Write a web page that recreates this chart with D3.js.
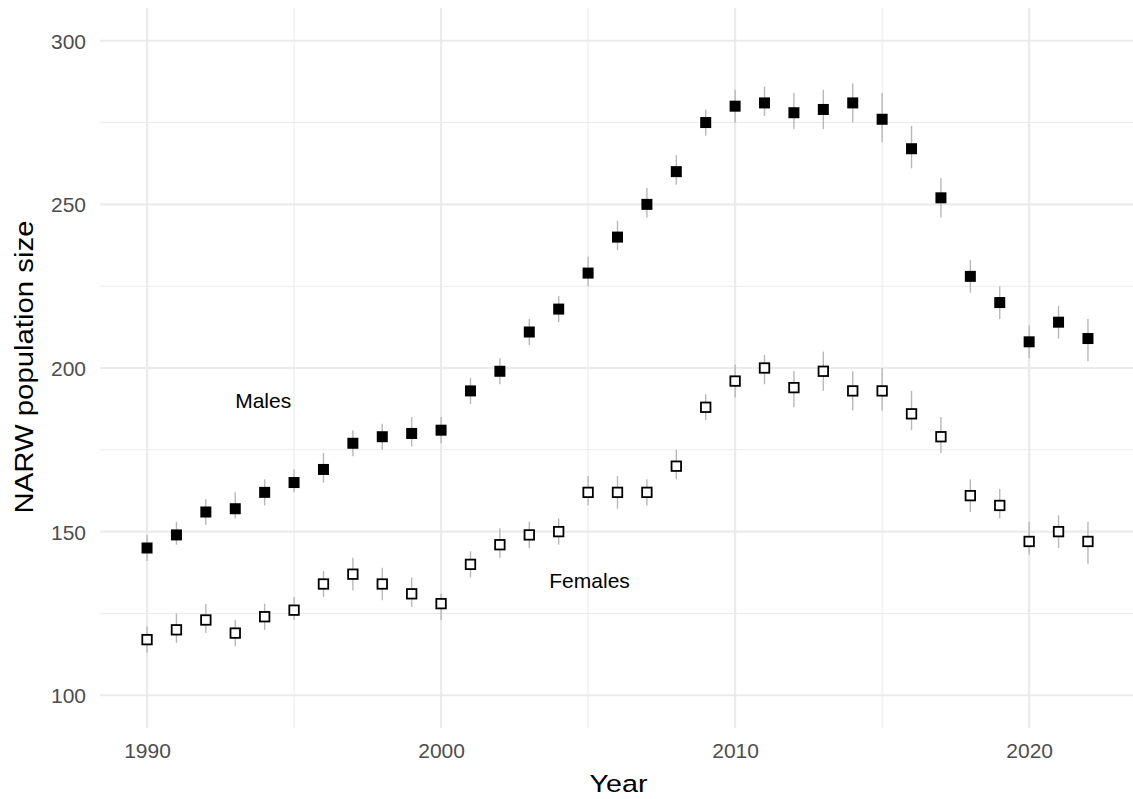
<!DOCTYPE html>
<html>
<head>
<meta charset="utf-8">
<script src="https://cdn.jsdelivr.net/npm/d3@7"></script>
<style>
  html, body { margin: 0; padding: 0; background: #fff; }
  svg { display: block; font-family: "Liberation Sans", Arial, Helvetica, sans-serif; }
</style>
</head>
<body>
<svg id="chart" width="1133" height="799"></svg>
<script>
// Estimated North Atlantic right whale abundance by sex, with uncertainty intervals
const years = d3.range(1990, 2023);

const maleMean = [145, 149, 156, 157, 162, 165, 169, 177, 179, 180, 181,
                  193, 199, 211, 218, 229, 240, 250, 260, 275, 280,
                  281, 278, 279, 281, 276, 267, 252, 228, 220, 208, 214, 209];
const maleLow  = [141, 146, 152, 154, 158, 162, 165, 173, 175, 176, 177,
                  189, 195, 207, 214, 225, 236, 246, 256, 271, 275,
                  277, 273, 273, 275, 269, 261, 246, 223, 215, 203, 209, 202];
const maleHigh = [149, 153, 160, 162, 166, 169, 174, 181, 183, 185, 185,
                  197, 203, 215, 222, 234, 245, 255, 265, 279, 285,
                  286, 284, 285, 287, 284, 274, 258, 233, 225, 213, 219, 215];

const femaleMean = [117, 120, 123, 119, 124, 126, 134, 137, 134, 131, 128,
                    140, 146, 149, 150, 162, 162, 162, 170, 188, 196,
                    200, 194, 199, 193, 193, 186, 179, 161, 158, 147, 150, 147];
const femaleLow  = [113, 116, 119, 115, 120, 123, 130, 132, 129, 127, 123,
                    136, 142, 145, 146, 158, 157, 158, 166, 184, 191,
                    195, 188, 193, 187, 187, 181, 174, 156, 154, 143, 145, 140];
const femaleHigh = [121, 125, 128, 123, 128, 130, 138, 142, 139, 136, 131,
                    144, 151, 153, 154, 167, 167, 166, 175, 192, 201,
                    204, 199, 205, 199, 200, 193, 185, 166, 163, 153, 155, 153];

const yTicks = [100, 150, 200, 250, 300];
const yMinor = [125, 175, 225, 275];
const xTicks = [1990, 2000, 2010, 2020];
const xMinor = [1995, 2005, 2015];

const seriesLabels = [
  { text: "Males",   year: 1993.95, value: 190 },
  { text: "Females", year: 2005.05, value: 135 }
];

const toRows = (mean, lo, hi) => years.map((yr, i) => ({ year: yr, v: mean[i], lo: lo[i], hi: hi[i] }));
const males = toRows(maleMean, maleLow, maleHigh);
const females = toRows(femaleMean, femaleLow, femaleHigh);

const svg = d3.select("#chart");
const panel = { left: 100, right: 1135, top: 8, bottom: 728 };

const x = d3.scaleLinear().domain([1988.4, 2023.6]).range([panel.left, panel.right]);
const y = d3.scaleLinear().domain([90, 310]).range([panel.bottom, panel.top]);

const gridColor = "#ebebeb";
const grid = svg.append("g");

grid.selectAll("line.ymin").data(yMinor).join("line")
  .attr("x1", panel.left).attr("x2", panel.right)
  .attr("y1", d => y(d)).attr("y2", d => y(d))
  .attr("stroke", gridColor).attr("stroke-width", 1.1);
grid.selectAll("line.xmin").data(xMinor).join("line")
  .attr("y1", panel.top).attr("y2", panel.bottom)
  .attr("x1", d => x(d)).attr("x2", d => x(d))
  .attr("stroke", gridColor).attr("stroke-width", 1.1);
grid.selectAll("line.ymaj").data(yTicks).join("line")
  .attr("x1", panel.left).attr("x2", panel.right)
  .attr("y1", d => y(d)).attr("y2", d => y(d))
  .attr("stroke", gridColor).attr("stroke-width", 2.2);
grid.selectAll("line.xmaj").data(xTicks).join("line")
  .attr("y1", panel.top).attr("y2", panel.bottom)
  .attr("x1", d => x(d)).attr("x2", d => x(d))
  .attr("stroke", gridColor).attr("stroke-width", 2.2);

// Axes: labels only, no domain line or tick marks
const yAxis = d3.axisLeft(y).tickValues(yTicks).tickSize(0).tickPadding(0).tickFormat(d3.format("d"));
const xAxis = d3.axisBottom(x).tickValues(xTicks).tickSize(0).tickPadding(0).tickFormat(d3.format("d"));

const gy = svg.append("g").attr("transform", "translate(86,0)").call(yAxis);
const gx = svg.append("g").attr("transform", `translate(0,${panel.bottom + 30})`).call(xAxis);
[gx, gy].forEach(g => {
  g.select(".domain").remove();
  g.selectAll("text").attr("fill", "#4d4d4d").style("font-size", "21px")
    .style("font-family", "'Liberation Sans', Arial, sans-serif");
});
gy.selectAll("text").attr("dy", "0.36em");
gx.selectAll("text").attr("dy", "0");

svg.append("text")
  .attr("x", (panel.left + panel.right) / 2 + 1).attr("y", 792)
  .attr("text-anchor", "middle").attr("fill", "#000")
  .attr("textLength", 58).attr("lengthAdjust", "spacingAndGlyphs")
  .style("font-size", "24.5px").text("Year");

svg.append("text")
  .attr("transform", `translate(33,${(panel.top + panel.bottom) / 2 - 1}) rotate(-90)`)
  .attr("text-anchor", "middle").attr("fill", "#000")
  .attr("textLength", 293).attr("lengthAdjust", "spacingAndGlyphs")
  .style("font-size", "25px").text("NARW population size");

// Uncertainty intervals
const bars = svg.append("g");
[males, females].forEach(rows => {
  bars.selectAll(null).data(rows).join("line")
    .attr("x1", d => x(d.year)).attr("x2", d => x(d.year))
    .attr("y1", d => y(d.lo)).attr("y2", d => y(d.hi))
    .attr("stroke", "#b8b8b8").attr("stroke-width", 1.4);
});

// Point estimates
const s = 11;
svg.append("g").selectAll("rect").data(males).join("rect")
  .attr("x", d => x(d.year) - s / 2).attr("y", d => y(d.v) - s / 2)
  .attr("width", s).attr("height", s).attr("fill", "#000");

const so = 9.5;
svg.append("g").selectAll("rect").data(females).join("rect")
  .attr("x", d => x(d.year) - so / 2).attr("y", d => y(d.v) - so / 2)
  .attr("width", so).attr("height", so)
  .attr("fill", "#fff").attr("stroke", "#000").attr("stroke-width", 1.8);

svg.append("g").selectAll("text").data(seriesLabels).join("text")
  .attr("x", d => x(d.year)).attr("y", d => y(d.value))
  .attr("dy", "0.35em").attr("text-anchor", "middle").attr("fill", "#000")
  .style("font-size", "21px").text(d => d.text);
</script>
</body>
</html>
